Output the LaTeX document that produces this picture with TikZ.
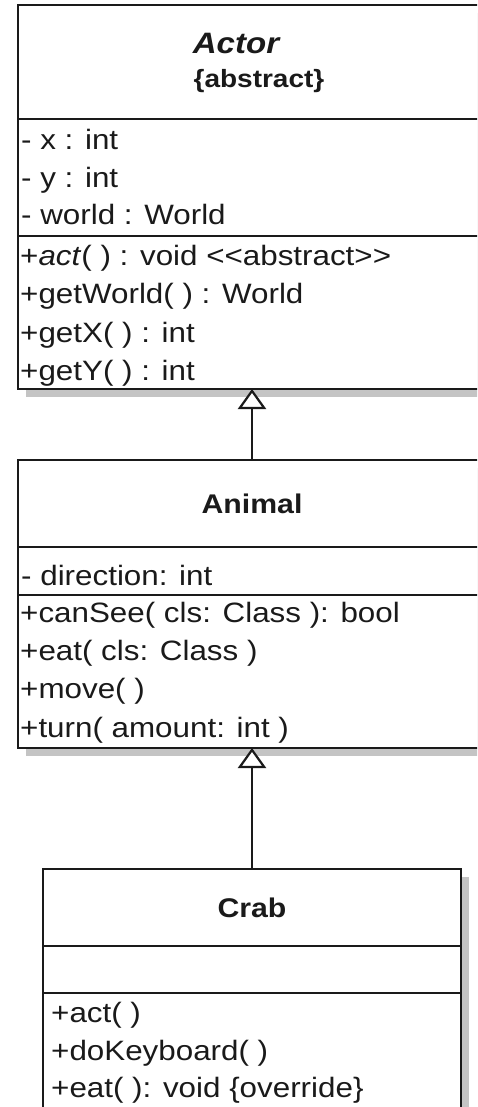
\documentclass[tikz,border=0pt]{standalone}
\usepackage{fontspec}
\setmainfont{Liberation Sans}[FakeStretch=1.12]
\usetikzlibrary{arrows.meta,shadows}
\definecolor{shadowgray}{HTML}{C4C4C4}
\definecolor{ink}{HTML}{1A1A1A}
\begin{document}
\begin{tikzpicture}[x=1pt,y=-1pt,
  classbox/.style={draw=ink,line width=2.5pt,fill=white,anchor=north west,
    inner sep=0pt,outer sep=0pt,
    drop shadow={shadow xshift=8pt,shadow yshift=-8pt,fill=shadowgray,opacity=1}},
  sep/.style={draw=ink,line width=2.5pt},
  entry/.style={anchor=base west,inner sep=0pt,text=ink,font=\fontsize{28}{32}\selectfont},
  title/.style={anchor=base,inner sep=0pt,text=ink,font=\fontsize{27}{32}\selectfont\bfseries},
  inherits/.style={draw=ink,line width=2.2pt,
    -{Triangle[open,length=20pt,width=28pt,line width=2.2pt,fill=white]}}
]
\useasboundingbox (0,0) rectangle (477,1107);
\clip (0,0) rectangle (477,1107);

% class boxes
\node[classbox,minimum width=468pt,minimum height=384pt] (actor) at (18,5) {};
\node[classbox,minimum width=468pt,minimum height=288pt] (animal) at (18,460) {};
\node[classbox,minimum width=418pt,minimum height=280pt] (crab) at (43,869) {};

% compartment separators
\draw[sep] (18,119) -- (486,119);
\draw[sep] (18,236) -- (486,236);
\draw[sep] (18,547) -- (486,547);
\draw[sep] (18,595) -- (486,595);
\draw[sep] (43,946) -- (461,946);
\draw[sep] (43,993) -- (461,993);

% Actor
\node[title,font=\fontsize{29.5}{32}\selectfont\bfseries\itshape] (actorname) at (236,54) {Actor};
\node[title,font=\fontsize{25}{32}\selectfont\bfseries] (actorabs) at (259,88) {\{abstract\}};
\node[entry] (ax) at (21,150) {- x : int};
\node[entry] (ay) at (21,188) {- y : int};
\node[entry] (aw) at (21,225) {- world : World};
\node[entry] (aact) at (20,265) {+\textit{act}( ) : void <{}<abstract>{}>};
\node[entry] (agw) at (20,303) {+getWorld( ) : World};
\node[entry] (agx) at (20,342) {+getX( ) : int};
\node[entry] (agy) at (20,380) {+getY( ) : int};

% Animal
\node[title] (animalname) at (252,513) {Animal};
\node[entry] (adir) at (21,585) {- direction: int};
\node[entry] (acan) at (20,622) {+canSee( cls: Class ): bool};
\node[entry] (aeat) at (20,660) {+eat( cls: Class )};
\node[entry] (amove) at (20,698) {+move( )};
\node[entry] (aturn) at (20,737) {+turn( amount: int )};

% Crab
\node[title] (crabname) at (252,917) {Crab};
\node[entry] (cact) at (51,1022) {+act( )};
\node[entry] (ckey) at (51,1060) {+doKeyboard( )};
\node[entry] (ceat) at (51,1097) {+eat( ): void \{override\}};

% generalisation arrows
\draw[inherits] (animal.north) -- (actor.south);
\draw[inherits] (crab.north) -- (animal.south);
\end{tikzpicture}
\end{document}
